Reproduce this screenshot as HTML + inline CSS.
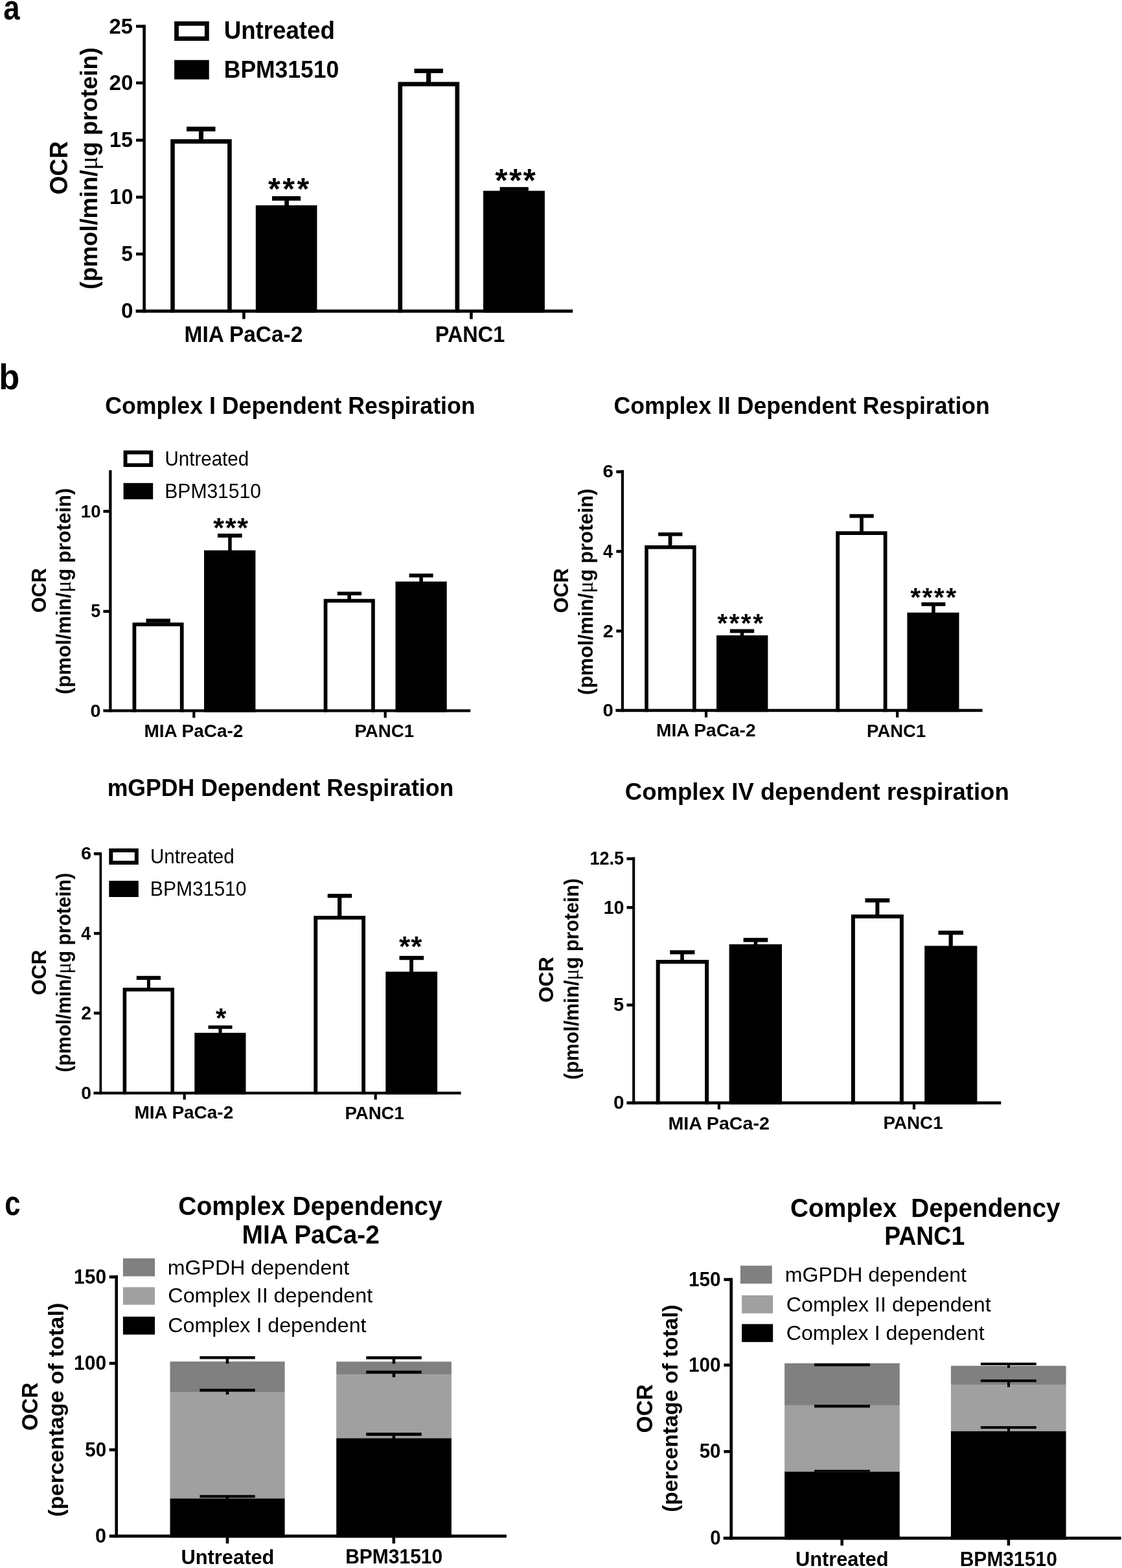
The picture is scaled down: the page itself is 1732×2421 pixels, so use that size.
<!DOCTYPE html>
<html><head><meta charset="utf-8"><title>Figure</title>
<style>html,body{margin:0;padding:0;background:#fff;}svg{display:block;}</style>
</head><body>
<svg width="1732" height="2421" viewBox="0 0 1732 2421">
<rect x="0" y="0" width="1732" height="2421" fill="#fff"/>
<text x="5.16" y="29.98" font-size="53.30" font-weight="bold" font-family="'Liberation Sans', Arial, sans-serif" textLength="25.35" lengthAdjust="spacingAndGlyphs" fill="#000">a</text>
<path d="M269.10 32.90H322.70V63.10H269.10ZM275.90 39.70H315.90V56.30H275.90Z" fill="#000" fill-rule="evenodd"/>
<rect x="269.10" y="92.70" width="53.60" height="29.90" fill="#000"/>
<text x="345.70" y="60.30" font-size="37.94" font-weight="bold" font-family="'Liberation Sans', Arial, sans-serif" textLength="171.12" lengthAdjust="spacingAndGlyphs" fill="#000">Untreated</text>
<text x="345.83" y="119.60" font-size="37.21" font-weight="bold" font-family="'Liberation Sans', Arial, sans-serif" textLength="177.32" lengthAdjust="spacingAndGlyphs" fill="#000">BPM31510</text>
<text transform="translate(104.30 299.10) rotate(-90)" x="-1.52" y="0" font-size="38.52" font-weight="bold" font-family="'Liberation Sans', Arial, sans-serif" textLength="82.59" lengthAdjust="spacingAndGlyphs">OCR</text>
<text transform="translate(150.20 445.00) rotate(-90)" x="-1.82" y="0" font-size="36.50" textLength="373.65" lengthAdjust="spacingAndGlyphs"><tspan font-family="'Liberation Sans', Arial, sans-serif" font-weight="bold">(pmol/min/</tspan><tspan font-family="'Liberation Serif', serif" font-weight="normal" font-size="39.42">μ</tspan><tspan font-family="'Liberation Sans', Arial, sans-serif" font-weight="bold">g protein)</tspan></text>
<path d="M263.20 215.10H357.70V482.80H351.10V221.70H269.80V482.80H263.20Z" fill="#000" fill-rule="evenodd"/>
<rect x="394.80" y="317.00" width="94.60" height="165.80" fill="#000"/>
<path d="M614.40 126.50H709.20V482.80H702.50V133.20H621.10V482.80H614.40Z" fill="#000" fill-rule="evenodd"/>
<rect x="746.00" y="294.60" width="94.90" height="188.20" fill="#000"/>
<rect x="288.00" y="195.60" width="44.50" height="7.20" fill="#000"/>
<rect x="306.90" y="202.30" width="7.10" height="13.20" fill="#000"/>
<rect x="420.00" y="302.90" width="44.10" height="6.90" fill="#000"/>
<rect x="439.20" y="309.30" width="6.70" height="8.20" fill="#000"/>
<rect x="639.50" y="106.00" width="44.40" height="6.90" fill="#000"/>
<rect x="658.00" y="112.40" width="7.20" height="14.60" fill="#000"/>
<rect x="771.60" y="288.80" width="44.20" height="6.10" fill="#000"/>
<rect x="220.30" y="38.50" width="4.60" height="444.30" fill="#000"/>
<rect x="209.60" y="477.90" width="674.60" height="4.90" fill="#000"/>
<rect x="210.00" y="38.35" width="14.00" height="4.50" fill="#000"/>
<rect x="210.00" y="125.75" width="14.00" height="4.50" fill="#000"/>
<rect x="210.00" y="214.25" width="14.00" height="4.50" fill="#000"/>
<rect x="210.00" y="302.15" width="14.00" height="4.50" fill="#000"/>
<rect x="210.00" y="389.95" width="14.00" height="4.50" fill="#000"/>
<rect x="374.10" y="482.00" width="4.60" height="10.60" fill="#000"/>
<rect x="725.10" y="482.00" width="4.60" height="10.60" fill="#000"/>
<text x="168.56" y="51.57" font-size="33.62" font-weight="bold" font-family="'Liberation Sans', Arial, sans-serif" textLength="36.45" lengthAdjust="spacingAndGlyphs" fill="#000">25</text>
<text x="168.55" y="138.97" font-size="33.62" font-weight="bold" font-family="'Liberation Sans', Arial, sans-serif" textLength="36.91" lengthAdjust="spacingAndGlyphs" fill="#000">20</text>
<text x="168.96" y="227.47" font-size="34.11" font-weight="bold" font-family="'Liberation Sans', Arial, sans-serif" textLength="36.04" lengthAdjust="spacingAndGlyphs" fill="#000">15</text>
<text x="168.93" y="315.37" font-size="33.62" font-weight="bold" font-family="'Liberation Sans', Arial, sans-serif" textLength="36.51" lengthAdjust="spacingAndGlyphs" fill="#000">10</text>
<text x="187.32" y="403.17" font-size="34.11" font-weight="bold" font-family="'Liberation Sans', Arial, sans-serif" textLength="17.66" lengthAdjust="spacingAndGlyphs" fill="#000">5</text>
<text x="186.99" y="491.27" font-size="33.62" font-weight="bold" font-family="'Liberation Sans', Arial, sans-serif" textLength="18.48" lengthAdjust="spacingAndGlyphs" fill="#000">0</text>
<text x="284.58" y="527.70" font-size="34.45" font-weight="bold" font-family="'Liberation Sans', Arial, sans-serif" textLength="182.75" lengthAdjust="spacingAndGlyphs" fill="#000">MIA PaCa-2</text>
<text x="671.68" y="527.90" font-size="34.59" font-weight="bold" font-family="'Liberation Sans', Arial, sans-serif" textLength="107.61" lengthAdjust="spacingAndGlyphs" fill="#000">PANC1</text>
<text x="414.06" y="308.00" font-size="48.11" font-weight="bold" font-family="'Liberation Sans', Arial, sans-serif" textLength="18.71" lengthAdjust="spacingAndGlyphs" fill="#000">*</text>
<text x="436.30" y="308.00" font-size="48.11" font-weight="bold" font-family="'Liberation Sans', Arial, sans-serif" textLength="18.71" lengthAdjust="spacingAndGlyphs" fill="#000">*</text>
<text x="458.53" y="308.00" font-size="48.11" font-weight="bold" font-family="'Liberation Sans', Arial, sans-serif" textLength="18.71" lengthAdjust="spacingAndGlyphs" fill="#000">*</text>
<text x="764.25" y="296.31" font-size="49.72" font-weight="bold" font-family="'Liberation Sans', Arial, sans-serif" textLength="19.34" lengthAdjust="spacingAndGlyphs" fill="#000">*</text>
<text x="785.93" y="296.31" font-size="49.72" font-weight="bold" font-family="'Liberation Sans', Arial, sans-serif" textLength="19.34" lengthAdjust="spacingAndGlyphs" fill="#000">*</text>
<text x="807.61" y="296.31" font-size="49.72" font-weight="bold" font-family="'Liberation Sans', Arial, sans-serif" textLength="19.34" lengthAdjust="spacingAndGlyphs" fill="#000">*</text>
<text x="-1.75" y="601.35" font-size="56.10" font-weight="bold" font-family="'Liberation Sans', Arial, sans-serif" textLength="32.00" lengthAdjust="spacingAndGlyphs" fill="#000">b</text>
<text x="162.24" y="639.00" font-size="37.21" font-weight="bold" font-family="'Liberation Sans', Arial, sans-serif" textLength="571.38" lengthAdjust="spacingAndGlyphs" fill="#000">Complex I Dependent Respiration</text>
<text transform="translate(70.60 944.80) rotate(-90)" x="-1.27" y="0" font-size="32.27" font-weight="bold" font-family="'Liberation Sans', Arial, sans-serif" textLength="69.01" lengthAdjust="spacingAndGlyphs">OCR</text>
<text transform="translate(109.00 1070.40) rotate(-90)" x="-1.55" y="0" font-size="30.60" textLength="318.41" lengthAdjust="spacingAndGlyphs"><tspan font-family="'Liberation Sans', Arial, sans-serif" font-weight="bold">(pmol/min/</tspan><tspan font-family="'Liberation Serif', serif" font-weight="normal" font-size="33.05">μ</tspan><tspan font-family="'Liberation Sans', Arial, sans-serif" font-weight="bold">g protein)</tspan></text>
<path d="M204.50 961.30H283.60V1099.50H277.80V967.10H210.30V1099.50H204.50Z" fill="#000" fill-rule="evenodd"/>
<rect x="315.00" y="849.70" width="79.40" height="249.80" fill="#000"/>
<path d="M499.70 924.80H578.80V1099.50H573.10V930.50H505.40V1099.50H499.70Z" fill="#000" fill-rule="evenodd"/>
<rect x="610.50" y="897.90" width="79.20" height="201.60" fill="#000"/>
<rect x="225.50" y="955.30" width="37.40" height="6.00" fill="#000"/>
<rect x="336.00" y="823.90" width="37.60" height="6.10" fill="#000"/>
<rect x="352.20" y="829.50" width="5.50" height="20.70" fill="#000"/>
<rect x="520.80" y="913.60" width="37.20" height="5.60" fill="#000"/>
<rect x="536.40" y="918.70" width="5.60" height="6.60" fill="#000"/>
<rect x="631.60" y="885.60" width="37.00" height="5.90" fill="#000"/>
<rect x="647.30" y="891.00" width="5.60" height="7.40" fill="#000"/>
<rect x="168.20" y="726.00" width="4.30" height="373.50" fill="#000"/>
<rect x="159.40" y="1095.20" width="566.80" height="4.30" fill="#000"/>
<rect x="159.40" y="787.25" width="12.60" height="4.50" fill="#000"/>
<rect x="159.40" y="941.75" width="12.60" height="4.50" fill="#000"/>
<rect x="297.20" y="1098.50" width="4.20" height="9.80" fill="#000"/>
<rect x="592.60" y="1098.50" width="4.20" height="9.80" fill="#000"/>
<text x="124.86" y="798.72" font-size="28.53" font-weight="bold" font-family="'Liberation Sans', Arial, sans-serif" textLength="30.67" lengthAdjust="spacingAndGlyphs" fill="#000">10</text>
<text x="140.28" y="953.22" font-size="28.95" font-weight="bold" font-family="'Liberation Sans', Arial, sans-serif" textLength="14.87" lengthAdjust="spacingAndGlyphs" fill="#000">5</text>
<text x="139.56" y="1106.62" font-size="28.53" font-weight="bold" font-family="'Liberation Sans', Arial, sans-serif" textLength="16.02" lengthAdjust="spacingAndGlyphs" fill="#000">0</text>
<text x="222.54" y="1137.50" font-size="28.49" font-weight="bold" font-family="'Liberation Sans', Arial, sans-serif" textLength="152.77" lengthAdjust="spacingAndGlyphs" fill="#000">MIA PaCa-2</text>
<text x="547.39" y="1137.80" font-size="28.49" font-weight="bold" font-family="'Liberation Sans', Arial, sans-serif" textLength="91.87" lengthAdjust="spacingAndGlyphs" fill="#000">PANC1</text>
<text x="329.37" y="828.69" font-size="43.00" font-weight="bold" font-family="'Liberation Sans', Arial, sans-serif" textLength="16.73" lengthAdjust="spacingAndGlyphs" fill="#000">*</text>
<text x="347.84" y="828.69" font-size="43.00" font-weight="bold" font-family="'Liberation Sans', Arial, sans-serif" textLength="16.73" lengthAdjust="spacingAndGlyphs" fill="#000">*</text>
<text x="366.31" y="828.69" font-size="43.00" font-weight="bold" font-family="'Liberation Sans', Arial, sans-serif" textLength="16.73" lengthAdjust="spacingAndGlyphs" fill="#000">*</text>
<path d="M190.60 695.50H236.20V721.10H190.60ZM196.50 701.40H230.30V715.20H196.50Z" fill="#000" fill-rule="evenodd"/>
<rect x="190.60" y="745.80" width="45.60" height="25.10" fill="#000"/>
<text x="254.52" y="718.70" font-size="31.25" font-weight="normal" font-family="'Liberation Sans', Arial, sans-serif" textLength="129.58" lengthAdjust="spacingAndGlyphs" fill="#000">Untreated</text>
<text x="254.34" y="768.70" font-size="31.25" font-weight="normal" font-family="'Liberation Sans', Arial, sans-serif" textLength="148.54" lengthAdjust="spacingAndGlyphs" fill="#000">BPM31510</text>
<text x="947.44" y="639.30" font-size="37.21" font-weight="bold" font-family="'Liberation Sans', Arial, sans-serif" textLength="580.47" lengthAdjust="spacingAndGlyphs" fill="#000">Complex II Dependent Respiration</text>
<text transform="translate(877.00 945.30) rotate(-90)" x="-1.28" y="0" font-size="32.27" font-weight="bold" font-family="'Liberation Sans', Arial, sans-serif" textLength="69.22" lengthAdjust="spacingAndGlyphs">OCR</text>
<text transform="translate(914.50 1071.40) rotate(-90)" x="-1.56" y="0" font-size="30.60" textLength="318.61" lengthAdjust="spacingAndGlyphs"><tspan font-family="'Liberation Sans', Arial, sans-serif" font-weight="bold">(pmol/min/</tspan><tspan font-family="'Liberation Serif', serif" font-weight="normal" font-size="33.05">μ</tspan><tspan font-family="'Liberation Sans', Arial, sans-serif" font-weight="bold">g protein)</tspan></text>
<path d="M995.20 842.10H1074.60V1099.20H1069.00V847.70H1000.80V1099.20H995.20Z" fill="#000" fill-rule="evenodd"/>
<rect x="1106.00" y="981.00" width="79.40" height="118.20" fill="#000"/>
<path d="M1290.30 820.20H1369.50V1099.20H1363.70V826.00H1296.10V1099.20H1290.30Z" fill="#000" fill-rule="evenodd"/>
<rect x="1400.40" y="945.80" width="80.10" height="153.40" fill="#000"/>
<rect x="1016.10" y="822.10" width="37.30" height="5.60" fill="#000"/>
<rect x="1031.60" y="827.20" width="5.80" height="15.40" fill="#000"/>
<rect x="1126.90" y="971.40" width="37.30" height="5.90" fill="#000"/>
<rect x="1142.70" y="976.80" width="5.60" height="4.70" fill="#000"/>
<rect x="1311.40" y="793.80" width="37.30" height="5.80" fill="#000"/>
<rect x="1327.20" y="799.10" width="5.70" height="21.60" fill="#000"/>
<rect x="1422.40" y="930.00" width="37.00" height="5.80" fill="#000"/>
<rect x="1438.10" y="935.30" width="5.60" height="11.00" fill="#000"/>
<rect x="958.80" y="725.80" width="4.20" height="373.40" fill="#000"/>
<rect x="950.40" y="1094.60" width="566.20" height="4.60" fill="#000"/>
<rect x="951.30" y="726.15" width="11.20" height="4.50" fill="#000"/>
<rect x="951.30" y="849.15" width="11.20" height="4.50" fill="#000"/>
<rect x="951.30" y="972.05" width="11.20" height="4.50" fill="#000"/>
<rect x="1087.90" y="1098.20" width="4.20" height="9.50" fill="#000"/>
<rect x="1383.10" y="1098.20" width="4.20" height="9.50" fill="#000"/>
<text x="930.52" y="737.48" font-size="28.11" font-weight="bold" font-family="'Liberation Sans', Arial, sans-serif" textLength="16.34" lengthAdjust="spacingAndGlyphs" fill="#000">6</text>
<text x="930.89" y="860.75" font-size="28.92" font-weight="bold" font-family="'Liberation Sans', Arial, sans-serif" textLength="15.06" lengthAdjust="spacingAndGlyphs" fill="#000">4</text>
<text x="930.79" y="983.65" font-size="28.50" font-weight="bold" font-family="'Liberation Sans', Arial, sans-serif" textLength="16.17" lengthAdjust="spacingAndGlyphs" fill="#000">2</text>
<text x="930.64" y="1105.98" font-size="28.11" font-weight="bold" font-family="'Liberation Sans', Arial, sans-serif" textLength="16.37" lengthAdjust="spacingAndGlyphs" fill="#000">0</text>
<text x="1013.03" y="1137.40" font-size="28.49" font-weight="bold" font-family="'Liberation Sans', Arial, sans-serif" textLength="153.59" lengthAdjust="spacingAndGlyphs" fill="#000">MIA PaCa-2</text>
<text x="1338.10" y="1137.50" font-size="28.49" font-weight="bold" font-family="'Liberation Sans', Arial, sans-serif" textLength="91.15" lengthAdjust="spacingAndGlyphs" fill="#000">PANC1</text>
<text x="1107.18" y="975.81" font-size="40.85" font-weight="bold" font-family="'Liberation Sans', Arial, sans-serif" textLength="15.89" lengthAdjust="spacingAndGlyphs" fill="#000">*</text>
<text x="1125.50" y="975.81" font-size="40.85" font-weight="bold" font-family="'Liberation Sans', Arial, sans-serif" textLength="15.89" lengthAdjust="spacingAndGlyphs" fill="#000">*</text>
<text x="1143.83" y="975.81" font-size="40.85" font-weight="bold" font-family="'Liberation Sans', Arial, sans-serif" textLength="15.89" lengthAdjust="spacingAndGlyphs" fill="#000">*</text>
<text x="1162.15" y="975.81" font-size="40.85" font-weight="bold" font-family="'Liberation Sans', Arial, sans-serif" textLength="15.89" lengthAdjust="spacingAndGlyphs" fill="#000">*</text>
<text x="1405.18" y="935.89" font-size="41.12" font-weight="bold" font-family="'Liberation Sans', Arial, sans-serif" textLength="16.00" lengthAdjust="spacingAndGlyphs" fill="#000">*</text>
<text x="1423.50" y="935.89" font-size="41.12" font-weight="bold" font-family="'Liberation Sans', Arial, sans-serif" textLength="16.00" lengthAdjust="spacingAndGlyphs" fill="#000">*</text>
<text x="1441.82" y="935.89" font-size="41.12" font-weight="bold" font-family="'Liberation Sans', Arial, sans-serif" textLength="16.00" lengthAdjust="spacingAndGlyphs" fill="#000">*</text>
<text x="1460.14" y="935.89" font-size="41.12" font-weight="bold" font-family="'Liberation Sans', Arial, sans-serif" textLength="16.00" lengthAdjust="spacingAndGlyphs" fill="#000">*</text>
<text x="165.65" y="1229.40" font-size="37.21" font-weight="bold" font-family="'Liberation Sans', Arial, sans-serif" textLength="534.56" lengthAdjust="spacingAndGlyphs" fill="#000">mGPDH Dependent Respiration</text>
<text transform="translate(71.00 1535.10) rotate(-90)" x="-1.29" y="0" font-size="32.27" font-weight="bold" font-family="'Liberation Sans', Arial, sans-serif" textLength="69.73" lengthAdjust="spacingAndGlyphs">OCR</text>
<text transform="translate(108.60 1653.90) rotate(-90)" x="-1.50" y="0" font-size="30.60" textLength="307.60" lengthAdjust="spacingAndGlyphs"><tspan font-family="'Liberation Sans', Arial, sans-serif" font-weight="bold">(pmol/min/</tspan><tspan font-family="'Liberation Serif', serif" font-weight="normal" font-size="33.05">μ</tspan><tspan font-family="'Liberation Sans', Arial, sans-serif" font-weight="bold">g protein)</tspan></text>
<path d="M189.60 1525.10H269.00V1689.80H263.40V1530.70H195.20V1689.80H189.60Z" fill="#000" fill-rule="evenodd"/>
<rect x="300.30" y="1594.70" width="79.20" height="95.10" fill="#000"/>
<path d="M484.30 1413.90H564.10V1689.80H558.20V1419.80H490.20V1689.80H484.30Z" fill="#000" fill-rule="evenodd"/>
<rect x="595.30" y="1500.30" width="79.80" height="189.50" fill="#000"/>
<rect x="210.80" y="1506.80" width="37.20" height="6.10" fill="#000"/>
<rect x="226.90" y="1512.40" width="5.10" height="13.20" fill="#000"/>
<rect x="321.50" y="1583.30" width="37.00" height="5.30" fill="#000"/>
<rect x="337.50" y="1588.10" width="5.00" height="7.10" fill="#000"/>
<rect x="505.70" y="1380.10" width="37.50" height="6.20" fill="#000"/>
<rect x="521.10" y="1385.80" width="6.20" height="28.60" fill="#000"/>
<rect x="616.50" y="1475.90" width="37.70" height="6.30" fill="#000"/>
<rect x="632.10" y="1481.70" width="5.90" height="19.10" fill="#000"/>
<rect x="153.50" y="1316.30" width="3.70" height="373.50" fill="#000"/>
<rect x="144.40" y="1685.60" width="567.20" height="4.20" fill="#000"/>
<rect x="144.90" y="1315.95" width="11.80" height="4.50" fill="#000"/>
<rect x="144.90" y="1438.95" width="11.80" height="4.50" fill="#000"/>
<rect x="144.90" y="1562.05" width="11.80" height="4.50" fill="#000"/>
<rect x="282.60" y="1688.80" width="4.20" height="9.00" fill="#000"/>
<rect x="577.60" y="1688.80" width="4.20" height="9.00" fill="#000"/>
<text x="124.94" y="1327.37" font-size="28.39" font-weight="bold" font-family="'Liberation Sans', Arial, sans-serif" textLength="16.11" lengthAdjust="spacingAndGlyphs" fill="#000">6</text>
<text x="125.19" y="1450.65" font-size="29.22" font-weight="bold" font-family="'Liberation Sans', Arial, sans-serif" textLength="14.95" lengthAdjust="spacingAndGlyphs" fill="#000">4</text>
<text x="125.31" y="1573.75" font-size="28.79" font-weight="bold" font-family="'Liberation Sans', Arial, sans-serif" textLength="15.83" lengthAdjust="spacingAndGlyphs" fill="#000">2</text>
<text x="125.38" y="1696.87" font-size="28.39" font-weight="bold" font-family="'Liberation Sans', Arial, sans-serif" textLength="15.79" lengthAdjust="spacingAndGlyphs" fill="#000">0</text>
<text x="207.44" y="1727.40" font-size="28.49" font-weight="bold" font-family="'Liberation Sans', Arial, sans-serif" textLength="152.77" lengthAdjust="spacingAndGlyphs" fill="#000">MIA PaCa-2</text>
<text x="532.39" y="1727.50" font-size="28.49" font-weight="bold" font-family="'Liberation Sans', Arial, sans-serif" textLength="91.56" lengthAdjust="spacingAndGlyphs" fill="#000">PANC1</text>
<text x="332.98" y="1586.45" font-size="41.93" font-weight="bold" font-family="'Liberation Sans', Arial, sans-serif" textLength="16.31" lengthAdjust="spacingAndGlyphs" fill="#000">*</text>
<text x="616.07" y="1477.42" font-size="44.08" font-weight="bold" font-family="'Liberation Sans', Arial, sans-serif" textLength="17.15" lengthAdjust="spacingAndGlyphs" fill="#000">*</text>
<text x="634.30" y="1477.42" font-size="44.08" font-weight="bold" font-family="'Liberation Sans', Arial, sans-serif" textLength="17.15" lengthAdjust="spacingAndGlyphs" fill="#000">*</text>
<path d="M168.30 1309.90H213.80V1335.00H168.30ZM174.30 1315.90H207.80V1329.00H174.30Z" fill="#000" fill-rule="evenodd"/>
<rect x="168.30" y="1359.90" width="45.50" height="25.10" fill="#000"/>
<text x="232.02" y="1332.60" font-size="31.25" font-weight="normal" font-family="'Liberation Sans', Arial, sans-serif" textLength="129.68" lengthAdjust="spacingAndGlyphs" fill="#000">Untreated</text>
<text x="231.83" y="1383.40" font-size="31.25" font-weight="normal" font-family="'Liberation Sans', Arial, sans-serif" textLength="148.74" lengthAdjust="spacingAndGlyphs" fill="#000">BPM31510</text>
<text x="964.80" y="1235.00" font-size="37.21" font-weight="bold" font-family="'Liberation Sans', Arial, sans-serif" textLength="592.97" lengthAdjust="spacingAndGlyphs" fill="#000">Complex IV dependent respiration</text>
<text transform="translate(854.30 1546.60) rotate(-90)" x="-1.30" y="0" font-size="32.27" font-weight="bold" font-family="'Liberation Sans', Arial, sans-serif" textLength="70.55" lengthAdjust="spacingAndGlyphs">OCR</text>
<text transform="translate(892.80 1665.40) rotate(-90)" x="-1.52" y="0" font-size="30.60" textLength="310.84" lengthAdjust="spacingAndGlyphs"><tspan font-family="'Liberation Sans', Arial, sans-serif" font-weight="bold">(pmol/min/</tspan><tspan font-family="'Liberation Serif', serif" font-weight="normal" font-size="33.05">μ</tspan><tspan font-family="'Liberation Sans', Arial, sans-serif" font-weight="bold">g protein)</tspan></text>
<path d="M1012.70 1482.00H1094.10V1705.20H1088.10V1488.00H1018.70V1705.20H1012.70Z" fill="#000" fill-rule="evenodd"/>
<rect x="1125.60" y="1458.00" width="81.40" height="247.20" fill="#000"/>
<path d="M1313.90 1412.10H1394.90V1705.20H1388.90V1418.10H1319.90V1705.20H1313.90Z" fill="#000" fill-rule="evenodd"/>
<rect x="1427.20" y="1460.40" width="81.20" height="244.80" fill="#000"/>
<rect x="1034.20" y="1467.20" width="38.20" height="6.20" fill="#000"/>
<rect x="1050.20" y="1472.90" width="5.60" height="9.60" fill="#000"/>
<rect x="1147.60" y="1448.10" width="37.70" height="6.40" fill="#000"/>
<rect x="1163.60" y="1454.00" width="5.70" height="4.50" fill="#000"/>
<rect x="1335.50" y="1387.00" width="37.80" height="6.40" fill="#000"/>
<rect x="1351.40" y="1392.90" width="6.00" height="19.70" fill="#000"/>
<rect x="1448.50" y="1436.90" width="38.50" height="6.40" fill="#000"/>
<rect x="1464.60" y="1442.80" width="6.20" height="18.10" fill="#000"/>
<rect x="976.10" y="1323.60" width="4.10" height="381.60" fill="#000"/>
<rect x="967.40" y="1700.50" width="577.90" height="4.70" fill="#000"/>
<rect x="967.50" y="1323.65" width="12.20" height="4.50" fill="#000"/>
<rect x="967.50" y="1398.95" width="12.20" height="4.50" fill="#000"/>
<rect x="967.50" y="1549.55" width="12.20" height="4.50" fill="#000"/>
<rect x="1107.80" y="1704.20" width="4.20" height="8.80" fill="#000"/>
<rect x="1408.90" y="1704.20" width="4.20" height="8.80" fill="#000"/>
<text x="910.60" y="1335.41" font-size="29.38" font-weight="bold" font-family="'Liberation Sans', Arial, sans-serif" textLength="52.55" lengthAdjust="spacingAndGlyphs" fill="#000">12.5</text>
<text x="931.69" y="1410.71" font-size="29.38" font-weight="bold" font-family="'Liberation Sans', Arial, sans-serif" textLength="31.88" lengthAdjust="spacingAndGlyphs" fill="#000">10</text>
<text x="947.11" y="1561.31" font-size="29.81" font-weight="bold" font-family="'Liberation Sans', Arial, sans-serif" textLength="16.10" lengthAdjust="spacingAndGlyphs" fill="#000">5</text>
<text x="947.13" y="1712.41" font-size="29.38" font-weight="bold" font-family="'Liberation Sans', Arial, sans-serif" textLength="16.49" lengthAdjust="spacingAndGlyphs" fill="#000">0</text>
<text x="1031.50" y="1743.60" font-size="28.49" font-weight="bold" font-family="'Liberation Sans', Arial, sans-serif" textLength="156.34" lengthAdjust="spacingAndGlyphs" fill="#000">MIA PaCa-2</text>
<text x="1363.48" y="1743.30" font-size="28.49" font-weight="bold" font-family="'Liberation Sans', Arial, sans-serif" textLength="92.18" lengthAdjust="spacingAndGlyphs" fill="#000">PANC1</text>
<text x="7.19" y="1876.17" font-size="54.21" font-weight="bold" font-family="'Liberation Sans', Arial, sans-serif" textLength="24.28" lengthAdjust="spacingAndGlyphs" fill="#000">c</text>
<text x="275.30" y="1875.60" font-size="39.83" font-weight="bold" font-family="'Liberation Sans', Arial, sans-serif" textLength="164.79" lengthAdjust="spacingAndGlyphs" fill="#000">Complex</text>
<text x="451.60" y="1875.60" font-size="39.83" font-weight="bold" font-family="'Liberation Sans', Arial, sans-serif" textLength="231.21" lengthAdjust="spacingAndGlyphs" fill="#000">Dependency</text>
<text x="373.62" y="1919.60" font-size="39.83" font-weight="bold" font-family="'Liberation Sans', Arial, sans-serif" textLength="212.23" lengthAdjust="spacingAndGlyphs" fill="#000">MIA PaCa-2</text>
<text transform="translate(57.80 2207.70) rotate(-90)" x="-1.37" y="0" font-size="34.88" font-weight="bold" font-family="'Liberation Sans', Arial, sans-serif" textLength="74.46" lengthAdjust="spacingAndGlyphs">OCR</text>
<text transform="translate(97.80 2340.40) rotate(-90)" x="-1.71" y="0" font-size="34.00" font-weight="bold" font-family="'Liberation Sans', Arial, sans-serif" textLength="330.63" lengthAdjust="spacingAndGlyphs">(percentage of total)</text>
<rect x="262.50" y="2102.20" width="177.10" height="47.60" fill="#808080"/>
<rect x="262.50" y="2149.80" width="177.10" height="163.80" fill="#a0a0a0"/>
<rect x="262.50" y="2313.60" width="177.10" height="60.60" fill="#000"/>
<rect x="519.20" y="2102.40" width="177.70" height="20.30" fill="#808080"/>
<rect x="519.20" y="2122.70" width="177.70" height="97.90" fill="#a0a0a0"/>
<rect x="519.20" y="2220.60" width="177.70" height="153.60" fill="#000"/>
<rect x="308.40" y="2094.00" width="85.30" height="4.40" fill="#000"/>
<rect x="348.70" y="2097.90" width="4.50" height="7.60" fill="#000"/>
<rect x="308.40" y="2144.30" width="85.30" height="4.40" fill="#000"/>
<rect x="348.70" y="2148.20" width="4.50" height="5.00" fill="#000"/>
<rect x="308.40" y="2308.30" width="85.30" height="4.20" fill="#000"/>
<rect x="348.70" y="2312.00" width="4.50" height="2.00" fill="#000"/>
<rect x="565.20" y="2094.10" width="85.60" height="4.60" fill="#000"/>
<rect x="605.70" y="2098.20" width="4.50" height="7.40" fill="#000"/>
<rect x="565.20" y="2116.30" width="85.60" height="4.50" fill="#000"/>
<rect x="605.70" y="2120.30" width="4.50" height="6.10" fill="#000"/>
<rect x="565.20" y="2212.10" width="85.60" height="4.80" fill="#000"/>
<rect x="605.70" y="2216.40" width="4.50" height="4.60" fill="#000"/>
<rect x="177.40" y="1969.30" width="4.60" height="404.90" fill="#000"/>
<rect x="168.70" y="2369.40" width="613.20" height="4.80" fill="#000"/>
<rect x="168.70" y="1969.30" width="12.80" height="4.60" fill="#000"/>
<rect x="168.70" y="2102.70" width="12.80" height="4.60" fill="#000"/>
<rect x="168.70" y="2236.20" width="12.80" height="4.60" fill="#000"/>
<rect x="348.75" y="2373.20" width="4.50" height="10.00" fill="#000"/>
<rect x="605.55" y="2373.20" width="4.50" height="10.00" fill="#000"/>
<text x="114.11" y="1981.94" font-size="31.78" font-weight="bold" font-family="'Liberation Sans', Arial, sans-serif" textLength="50.02" lengthAdjust="spacingAndGlyphs" fill="#000">150</text>
<text x="114.11" y="2115.34" font-size="31.78" font-weight="bold" font-family="'Liberation Sans', Arial, sans-serif" textLength="50.02" lengthAdjust="spacingAndGlyphs" fill="#000">100</text>
<text x="131.19" y="2248.84" font-size="31.78" font-weight="bold" font-family="'Liberation Sans', Arial, sans-serif" textLength="32.92" lengthAdjust="spacingAndGlyphs" fill="#000">50</text>
<text x="147.09" y="2382.14" font-size="31.78" font-weight="bold" font-family="'Liberation Sans', Arial, sans-serif" textLength="17.07" lengthAdjust="spacingAndGlyphs" fill="#000">0</text>
<text x="279.45" y="2414.50" font-size="30.96" font-weight="bold" font-family="'Liberation Sans', Arial, sans-serif" textLength="143.99" lengthAdjust="spacingAndGlyphs" fill="#000">Untreated</text>
<text x="533.19" y="2414.30" font-size="30.96" font-weight="bold" font-family="'Liberation Sans', Arial, sans-serif" textLength="150.04" lengthAdjust="spacingAndGlyphs" fill="#000">BPM31510</text>
<rect x="189.90" y="1942.90" width="49.10" height="27.70" fill="#808080"/>
<rect x="189.90" y="1987.40" width="49.10" height="27.20" fill="#a0a0a0"/>
<rect x="189.90" y="2032.90" width="49.10" height="27.70" fill="#000"/>
<text x="258.87" y="1968.30" font-size="31.25" font-weight="normal" font-family="'Liberation Sans', Arial, sans-serif" textLength="280.27" lengthAdjust="spacingAndGlyphs" fill="#000">mGPDH dependent</text>
<text x="259.36" y="2010.70" font-size="31.25" font-weight="normal" font-family="'Liberation Sans', Arial, sans-serif" textLength="315.78" lengthAdjust="spacingAndGlyphs" fill="#000">Complex II dependent</text>
<text x="259.36" y="2056.70" font-size="31.25" font-weight="normal" font-family="'Liberation Sans', Arial, sans-serif" textLength="306.17" lengthAdjust="spacingAndGlyphs" fill="#000">Complex I dependent</text>
<text x="1220.00" y="1878.80" font-size="39.83" font-weight="bold" font-family="'Liberation Sans', Arial, sans-serif" textLength="164.28" lengthAdjust="spacingAndGlyphs" fill="#000">Complex</text>
<text x="1406.31" y="1878.80" font-size="39.83" font-weight="bold" font-family="'Liberation Sans', Arial, sans-serif" textLength="230.30" lengthAdjust="spacingAndGlyphs" fill="#000">Dependency</text>
<text x="1365.15" y="1922.30" font-size="39.83" font-weight="bold" font-family="'Liberation Sans', Arial, sans-serif" textLength="124.07" lengthAdjust="spacingAndGlyphs" fill="#000">PANC1</text>
<text transform="translate(1006.90 2211.10) rotate(-90)" x="-1.38" y="0" font-size="34.88" font-weight="bold" font-family="'Liberation Sans', Arial, sans-serif" textLength="74.98" lengthAdjust="spacingAndGlyphs">OCR</text>
<text transform="translate(1046.40 2333.20) rotate(-90)" x="-1.66" y="0" font-size="34.00" font-weight="bold" font-family="'Liberation Sans', Arial, sans-serif" textLength="320.52" lengthAdjust="spacingAndGlyphs">(percentage of total)</text>
<rect x="1211.10" y="2104.90" width="177.70" height="65.00" fill="#808080"/>
<rect x="1211.10" y="2169.90" width="177.70" height="102.40" fill="#a0a0a0"/>
<rect x="1211.10" y="2272.30" width="177.70" height="105.00" fill="#000"/>
<rect x="1467.90" y="2108.80" width="177.70" height="29.30" fill="#808080"/>
<rect x="1467.90" y="2138.10" width="177.70" height="71.70" fill="#a0a0a0"/>
<rect x="1467.90" y="2209.80" width="177.70" height="167.50" fill="#000"/>
<rect x="1257.00" y="2105.10" width="85.90" height="4.30" fill="#000"/>
<rect x="1257.00" y="2168.90" width="85.90" height="4.50" fill="#000"/>
<rect x="1257.00" y="2269.50" width="85.90" height="3.00" fill="#000"/>
<rect x="1513.90" y="2103.90" width="85.80" height="4.00" fill="#000"/>
<rect x="1555.00" y="2107.40" width="4.00" height="4.60" fill="#000"/>
<rect x="1513.90" y="2129.90" width="85.80" height="4.00" fill="#000"/>
<rect x="1555.00" y="2133.40" width="4.00" height="8.20" fill="#000"/>
<rect x="1513.90" y="2202.00" width="85.80" height="4.00" fill="#000"/>
<rect x="1555.00" y="2205.50" width="4.00" height="4.50" fill="#000"/>
<rect x="1126.40" y="1973.30" width="4.60" height="404.00" fill="#000"/>
<rect x="1116.70" y="2372.60" width="614.00" height="4.70" fill="#000"/>
<rect x="1117.40" y="1973.30" width="13.10" height="4.60" fill="#000"/>
<rect x="1117.40" y="2105.40" width="13.10" height="4.60" fill="#000"/>
<rect x="1117.40" y="2238.90" width="13.10" height="4.60" fill="#000"/>
<rect x="1297.45" y="2376.30" width="4.50" height="10.10" fill="#000"/>
<rect x="1554.65" y="2376.30" width="4.50" height="10.10" fill="#000"/>
<text x="1062.93" y="1985.70" font-size="31.07" font-weight="bold" font-family="'Liberation Sans', Arial, sans-serif" textLength="49.59" lengthAdjust="spacingAndGlyphs" fill="#000">150</text>
<text x="1062.93" y="2117.80" font-size="31.07" font-weight="bold" font-family="'Liberation Sans', Arial, sans-serif" textLength="49.59" lengthAdjust="spacingAndGlyphs" fill="#000">100</text>
<text x="1079.69" y="2251.30" font-size="31.07" font-weight="bold" font-family="'Liberation Sans', Arial, sans-serif" textLength="32.82" lengthAdjust="spacingAndGlyphs" fill="#000">50</text>
<text x="1096.14" y="2385.10" font-size="31.07" font-weight="bold" font-family="'Liberation Sans', Arial, sans-serif" textLength="16.37" lengthAdjust="spacingAndGlyphs" fill="#000">0</text>
<text x="1228.05" y="2418.30" font-size="30.96" font-weight="bold" font-family="'Liberation Sans', Arial, sans-serif" textLength="143.58" lengthAdjust="spacingAndGlyphs" fill="#000">Untreated</text>
<text x="1481.69" y="2418.20" font-size="30.96" font-weight="bold" font-family="'Liberation Sans', Arial, sans-serif" textLength="150.14" lengthAdjust="spacingAndGlyphs" fill="#000">BPM31510</text>
<rect x="1142.90" y="1954.20" width="48.80" height="27.70" fill="#808080"/>
<rect x="1145.10" y="2000.00" width="48.10" height="27.80" fill="#a0a0a0"/>
<rect x="1145.10" y="2044.40" width="48.10" height="27.70" fill="#000"/>
<text x="1211.87" y="1979.00" font-size="31.25" font-weight="normal" font-family="'Liberation Sans', Arial, sans-serif" textLength="280.17" lengthAdjust="spacingAndGlyphs" fill="#000">mGPDH dependent</text>
<text x="1213.66" y="2025.00" font-size="31.25" font-weight="normal" font-family="'Liberation Sans', Arial, sans-serif" textLength="315.98" lengthAdjust="spacingAndGlyphs" fill="#000">Complex II dependent</text>
<text x="1213.67" y="2069.00" font-size="31.25" font-weight="normal" font-family="'Liberation Sans', Arial, sans-serif" textLength="306.07" lengthAdjust="spacingAndGlyphs" fill="#000">Complex I dependent</text>
</svg>
</body></html>
